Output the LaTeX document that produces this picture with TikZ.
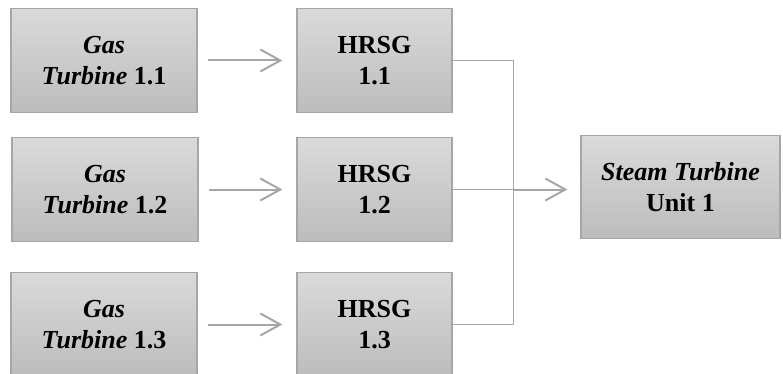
\documentclass[tikz,border=0pt]{standalone}
\usepackage{fontspec}
\setmainfont{LiberationSerif}[Extension=.ttf,UprightFont=*-Regular,BoldFont=*-Bold,ItalicFont=*-Italic,BoldItalicFont=*-BoldItalic]
\usetikzlibrary{arrows.meta}

\definecolor{boxtop}{RGB}{218,218,218}
\definecolor{boxbot}{RGB}{188,188,188}
\definecolor{linegray}{RGB}{166,166,166}

\begin{document}
\begin{tikzpicture}[x=1pt,y=-1pt,
    unit/.style={draw=linegray,line width=1.2pt,top color=boxtop,bottom color=boxbot,align=center,inner sep=0pt,font=\fontsize{26}{31}\selectfont\bfseries},
    gt node/.style={unit,minimum width=186pt,minimum height=104pt},
    hrsg node/.style={unit,minimum width=155pt,minimum height=104pt},
    flow/.style={draw=linegray,line width=2pt,-{Straight Barb[length=20pt,width=22pt]}},
    pipe/.style={draw=linegray,line width=1pt}]
    \useasboundingbox (0,0) rectangle (783,374);

    \node[gt node] (gt1) at (104,60.5) {\textit{Gas}\\\textit{Turbine} 1.1};
    \node[gt node] (gt2) at (105,189.5) {\textit{Gas}\\\textit{Turbine} 1.2};
    \node[gt node] (gt3) at (104,324.5) {\textit{Gas}\\\textit{Turbine} 1.3};

    \node[hrsg node] (h1) at (374.5,60.5) {HRSG\\1.1};
    \node[hrsg node] (h2) at (374.5,189.5) {HRSG\\1.2};
    \node[hrsg node] (h3) at (374.5,324.5) {HRSG\\1.3};

    \node[unit,minimum width=199pt,minimum height=103pt] (st) at (680.5,187) {\textit{Steam Turbine}\\Unit 1};

    \coordinate (bus) at (513.5,189.5);

    % gas turbines into the boilers
    \draw[flow,shorten <=10pt,shorten >=14pt] (gt1) -- (h1);
    \draw[flow,shorten <=10pt,shorten >=14pt] (gt2) -- (h2);
    \draw[flow,shorten <=10pt,shorten >=14pt] (gt3) -- (h3);

    % steam header
    \draw[pipe] (h1.east) -| (bus) |- (h3.east);
    \draw[pipe] (h2.east) -- (bus);
    \draw[flow,shorten >=13pt] (bus) -- (st.west |- bus);
\end{tikzpicture}
\end{document}
